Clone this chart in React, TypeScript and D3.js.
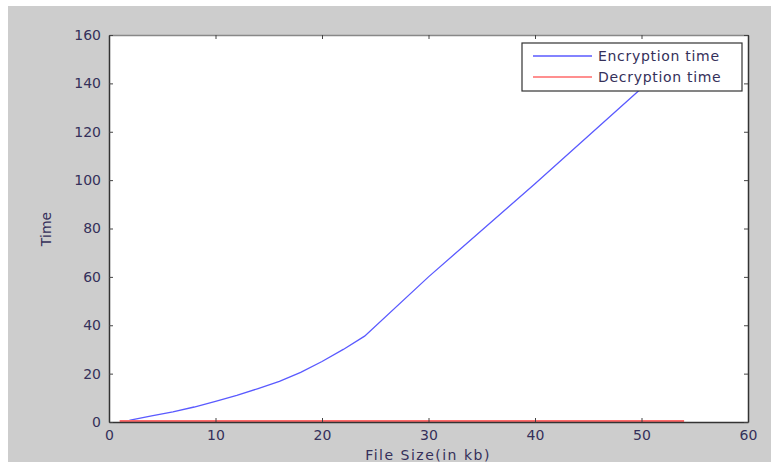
import { useRef, useEffect } from 'react';
import * as d3 from 'd3';

// file size (kb) and times
const encSize = [1.5, 2, 4, 6, 8, 10, 12, 14, 16, 18, 20, 22, 24, 30, 40, 50, 54];
const encTime = [0, 0.8, 2.5, 4.2, 6.2, 8.5, 11, 13.8, 16.8, 20.5, 25, 30, 35.5, 60, 98.5, 138, 153];
const decSize = [1, 54];
const decTime = [0.4, 0.4];
const xTicks = [0, 10, 20, 30, 40, 50, 60];
const yTicks = [0, 20, 40, 60, 80, 100, 120, 140, 160];
const seriesNames = ['Encryption time', 'Decryption time'];

const W = 771;
const H = 462;
const txt = '#35305a';

const App = () => {
  const svgRef = useRef<SVGSVGElement>(null);

  useEffect(() => {
    const svg = d3.select(svgRef.current);
    svg.selectAll('*').remove();
    const font = '"DejaVu Sans", Verdana, sans-serif';

    const left = 109, right = 748, top = 35, bottom = 422;

    // gray figure background
    svg.append('rect').attr('x', 8).attr('y', 6).attr('width', W - 8).attr('height', H - 6).attr('fill', '#cdcdcd');
    svg.append('rect').attr('x', left).attr('y', top).attr('width', right - left).attr('height', bottom - top).attr('fill', '#fff');

    const x = d3.scaleLinear().domain([0, 60]).range([left, right]);
    const y = d3.scaleLinear().domain([0, 160]).range([bottom, top]);

    const line = d3.line<[number, number]>().x(d => x(d[0])).y(d => y(d[1]));

    svg.append('path')
      .datum(encSize.map((s, i) => [s, encTime[i]] as [number, number]))
      .attr('d', line)
      .attr('fill', 'none')
      .attr('stroke', '#5a5aff')
      .attr('stroke-width', 1.3);

    svg.append('path')
      .datum(decSize.map((s, i) => [s, decTime[i]] as [number, number]))
      .attr('d', line)
      .attr('fill', 'none')
      .attr('stroke', '#ff6a6a')
      .attr('stroke-width', 2);

    // axes, MATLAB style with inward ticks on all four sides
    const xAxisB = d3.axisBottom(x).tickValues(xTicks).tickSizeInner(-4).tickSizeOuter(0).tickPadding(8);
    const xAxisT = d3.axisTop(x).tickValues(xTicks).tickSizeInner(-4).tickSizeOuter(0).tickFormat(() => '');
    const yAxisL = d3.axisLeft(y).tickValues(yTicks).tickSizeInner(-4).tickSizeOuter(0).tickPadding(8);
    const yAxisR = d3.axisRight(y).tickValues(yTicks).tickSizeInner(-4).tickSizeOuter(0).tickFormat(() => '');

    const style = (g: d3.Selection<SVGGElement, unknown, null, undefined>) => {
      g.select('.domain').attr('stroke', '#333').attr('stroke-width', 1.5);
      g.selectAll('.tick line').attr('stroke', '#444');
      g.selectAll('.tick text').attr('fill', txt).attr('font-size', 14).attr('font-family', font);
    };

    svg.append('g').attr('transform', `translate(0,${bottom})`).call(xAxisB).call(style);
    svg.append('g').attr('transform', `translate(0,${top})`).call(xAxisT).call(style)
      .select('.domain').attr('stroke', '#888');
    svg.append('g').attr('transform', `translate(${left},0)`).call(yAxisL).call(style);
    svg.append('g').attr('transform', `translate(${right},0)`).call(yAxisR).call(style);

    svg.append('text')
      .attr('x', 428).attr('y', 460)
      .attr('text-anchor', 'middle')
      .attr('font-family', font).attr('font-size', 14).attr('letter-spacing', 1.5).attr('fill', txt)
      .text('File Size(in kb)');

    svg.append('text')
      .attr('transform', `translate(51,229) rotate(-90)`)
      .attr('text-anchor', 'middle')
      .attr('font-family', font).attr('font-size', 14).attr('fill', txt)
      .text('Time');

    // legend
    const lg = svg.append('g').attr('transform', 'translate(522,43)');
    lg.append('rect').attr('width', 220).attr('height', 48).attr('fill', '#fff').attr('stroke', '#333').attr('stroke-width', 1.2);
    const colors = ['#5a5aff', '#ff6a6a'];
    seriesNames.forEach((name, i) => {
      const yy = 13 + i * 21;
      lg.append('line').attr('x1', 11).attr('x2', 70).attr('y1', yy).attr('y2', yy)
        .attr('stroke', colors[i]).attr('stroke-width', 1.3);
      lg.append('text').attr('x', 76).attr('y', yy + 5)
        .attr('font-family', font).attr('font-size', 14).attr('letter-spacing', 0.7).attr('fill', txt)
        .text(name);
    });
  }, []);

  return <svg ref={svgRef} width={W} height={H} style={{ position: 'absolute', left: 0, top: 0 }}></svg>;
};

export default App;
